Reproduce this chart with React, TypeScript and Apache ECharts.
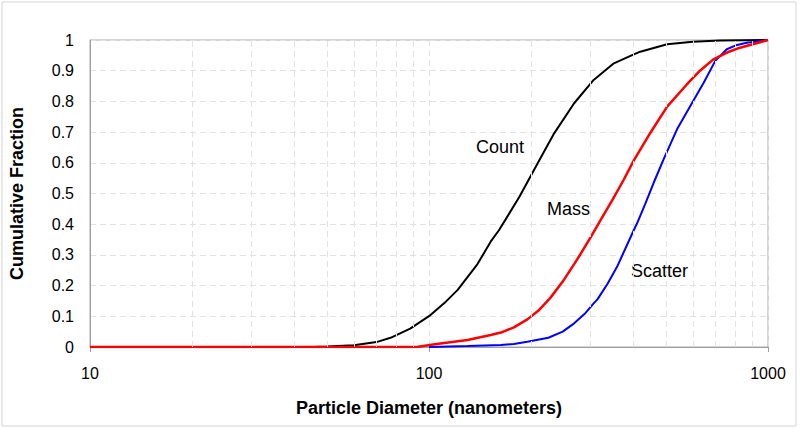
import React, { useEffect, useRef } from "react";
import * as echarts from "echarts";

const countD = [45, 50, 60, 70, 77, 88, 101, 111, 121.5, 139, 152, 161, 185, 209, 234, 268, 306, 351, 402, 420, 504, 600, 722, 850, 1000];
const countF = [0, 0.002, 0.006, 0.016, 0.03, 0.06, 0.104, 0.143, 0.186, 0.27, 0.343, 0.381, 0.49, 0.598, 0.696, 0.794, 0.87, 0.924, 0.953, 0.962, 0.986, 0.994, 0.998, 0.9995, 1];

const massD = [10, 92, 104, 130, 152, 163, 178, 195, 210, 228, 248, 268, 280, 300, 321, 348, 375, 402, 450, 504, 577, 630, 690, 760, 827, 1000];
const massF = [0, 0, 0.009, 0.023, 0.039, 0.047, 0.064, 0.09, 0.118, 0.16, 0.213, 0.27, 0.303, 0.358, 0.414, 0.48, 0.544, 0.608, 0.698, 0.783, 0.856, 0.9, 0.937, 0.96, 0.975, 1];

const scatterD = [100, 130, 163, 178, 195, 225, 248, 268, 288, 306, 314, 336, 359, 402, 411, 435, 460, 492, 539, 590, 646, 699, 756, 810, 866, 1000];
const scatterF = [0, 0.003, 0.0065, 0.01, 0.017, 0.03, 0.05, 0.077, 0.108, 0.142, 0.155, 0.205, 0.262, 0.381, 0.403, 0.468, 0.535, 0.611, 0.709, 0.785, 0.861, 0.932, 0.97, 0.984, 0.991, 1];

const minorGridX = [20, 30, 40, 50, 60, 70, 80, 90, 200, 300, 400, 500, 600, 700, 800, 900];

const curveLabels = [
  { text: "Count", x: 476, y: 147 },
  { text: "Mass", x: 547, y: 209 },
  { text: "Scatter", x: 631, y: 271 },
];

const FONT = "'Liberation Sans', Arial, sans-serif";

const zip = (xs: number[], ys: number[]) => xs.map((x, i) => [x, ys[i]]);

export default function App() {
  const ref = useRef<HTMLDivElement>(null);
  useEffect(() => {
    if (!ref.current) return;
    const chart = echarts.init(ref.current, null, { renderer: "svg" });
    const gridColor = "#e2e2e2";
    chart.setOption({
      animation: false,
      backgroundColor: "#ffffff",
      textStyle: { fontFamily: FONT },
      grid: {
        left: 88,
        right: 32,
        top: 40,
        bottom: 81,
        show: true,
        borderColor: "#a8a8a8",
        borderWidth: 1,
      },
      xAxis: {
        type: "log",
        logBase: 10,
        min: 10,
        max: 1000,
        name: "Particle Diameter (nanometers)",
        nameLocation: "middle",
        nameGap: 52,
        nameTextStyle: { fontFamily: FONT, fontSize: 18, fontWeight: "bold", color: "#000" },
        axisLine: { show: true, lineStyle: { color: "#a0a0a0", width: 1 } },
        axisTick: { show: true, length: 5, lineStyle: { color: "#a0a0a0" } },
        axisLabel: {
          fontFamily: FONT,
          fontSize: 16,
          color: "#000",
          margin: 18,
          formatter: (v: number) => String(Math.round(v)),
        },
        splitLine: { show: true, lineStyle: { color: gridColor, type: [6, 4], width: 1 } },
        minorTick: { show: false },
      },
      yAxis: {
        type: "value",
        min: 0,
        max: 1,
        interval: 0.1,
        name: "Cumulative Fraction",
        nameLocation: "middle",
        nameRotate: 90,
        nameGap: 64,
        nameTextStyle: { fontFamily: FONT, fontSize: 18, fontWeight: "bold", color: "#000" },
        axisLine: { show: true, lineStyle: { color: "#a0a0a0", width: 1 } },
        axisTick: { show: false },
        axisLabel: { fontFamily: FONT, fontSize: 16, color: "#000", margin: 16 },
        splitLine: { show: true, lineStyle: { color: gridColor, type: [6, 4], width: 1 } },
      },
      series: [
        {
          name: "grid",
          type: "line",
          data: [[10, 0]],
          showSymbol: false,
          symbol: "none",
          lineStyle: { width: 0 },
          silent: true,
          z: 1,
          markLine: {
            silent: true,
            symbol: "none",
            label: { show: false },
            lineStyle: { color: gridColor, type: [6, 4], width: 1 },
            data: minorGridX.map((v) => ({ xAxis: v })),
          },
        },
        {
          name: "Count",
          type: "line",
          data: zip(countD, countF),
          showSymbol: false,
          symbol: "none",
          lineStyle: { color: "#000000", width: 2 },
          z: 3,
        },
        {
          name: "Scatter",
          type: "line",
          data: zip(scatterD, scatterF),
          showSymbol: false,
          symbol: "none",
          lineStyle: { color: "#0000ff", width: 2 },
          z: 3,
        },
        {
          name: "Mass",
          type: "line",
          data: zip(massD, massF),
          showSymbol: false,
          symbol: "none",
          lineStyle: { color: "#ff0000", width: 2.5 },
          z: 4,
        },
      ],
      graphic: [
        {
          type: "rect",
          shape: { x: 2, y: 2, width: 794, height: 424 },
          style: { fill: "none", stroke: "#d4d4d4", lineWidth: 1 },
          silent: true,
        },
        ...curveLabels.map((l) => ({
          type: "text",
          x: l.x,
          y: l.y,
          style: {
            text: l.text,
            fontFamily: FONT,
            fontSize: 18,
            fill: "#000",
            textVerticalAlign: "middle",
            verticalAlign: "middle",
          },
          silent: true,
        })),
      ],
    });
    return () => chart.dispose();
  }, []);
  return (
    <div
      ref={ref}
      style={{ position: "fixed", left: 0, top: 0, width: 800, height: 428 }}
    />
  );
}
